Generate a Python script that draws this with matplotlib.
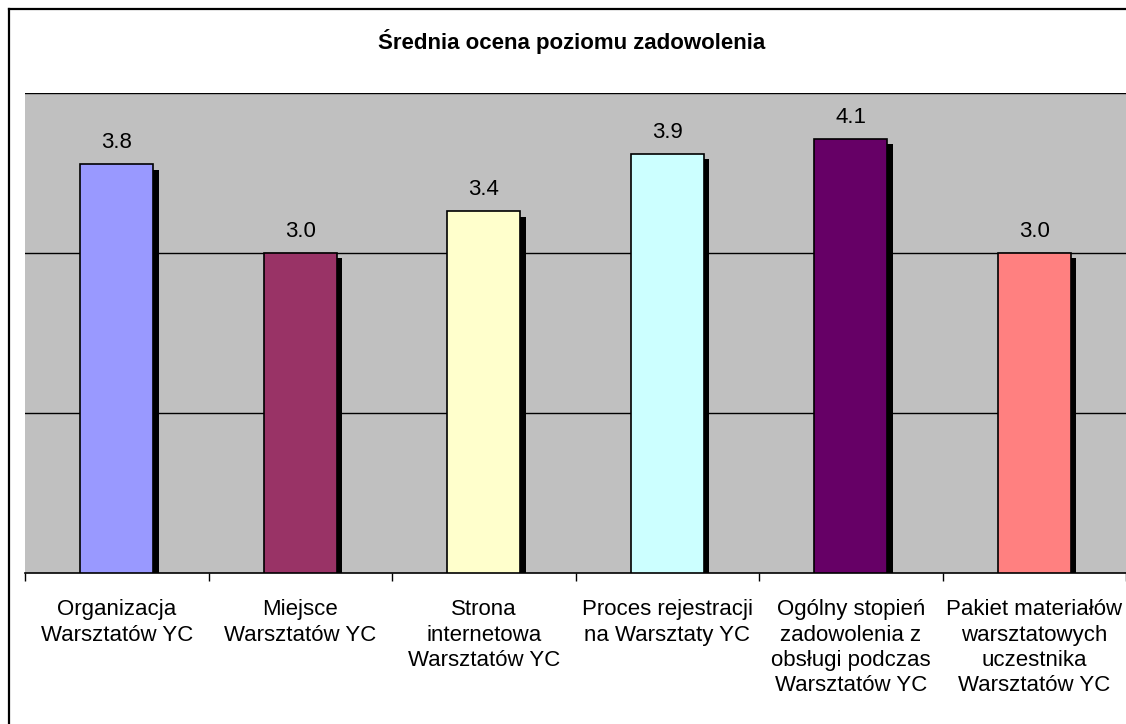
import matplotlib
matplotlib.use("Agg")
import matplotlib.pyplot as plt
import matplotlib.patheffects as pe
from matplotlib.lines import Line2D
import numpy as np

plt.rcParams['font.family'] = ['Liberation Sans', 'DejaVu Sans']

# Data
categories = [
    "Organizacja\nWarsztatów YC",
    "Miejsce\nWarsztatów YC",
    "Strona\ninternetowa\nWarsztatów YC",
    "Proces rejestracji\nna Warsztaty YC",
    "Ogólny stopień\nzadowolenia z\nobsługi podczas\nWarsztatów YC",
    "Pakiet materiałów\nwarsztatowych\nuczestnika\nWarsztatów YC",
]
values = [3.83, 3.0, 3.39, 3.93, 4.07, 3.0]
colors = ["#9999FF", "#993366", "#FFFFCC", "#CCFFFF", "#660066", "#FF8080"]
title = "Średnia ocena poziomu zadowolenia"

W, H = 1126, 724
fig = plt.figure(figsize=(W / 100, H / 100), dpi=100)
fig.patch.set_facecolor("white")

# plot area in pixels: left 25, top 93, right 1126, bottom 573
ax = fig.add_axes([25 / W, (H - 573) / H, (W - 25) / W, (573 - 93) / H])
ax.set_facecolor("#C0C0C0")

x = np.arange(len(values))
bars = ax.bar(x, values, width=0.4, color=colors, edgecolor="black",
              linewidth=1.2, zorder=3)
for b in bars:
    b.set_path_effects([pe.SimplePatchShadow(offset=(3.8, -3.8),
                                             shadow_rgbFace="black", alpha=1.0),
                        pe.Normal()])

for xi, v in zip(x, values):
    ax.annotate(f"{v:.1f}", (xi, v), xytext=(0, 11.5), textcoords="offset points",
                ha="center", va="baseline", fontsize=16, color="black")

ax.set_xlim(-0.5, len(values) - 0.5)
ax.set_ylim(0, 4.5)
ax.set_yticks([1.5, 3.0, 4.5])
ax.yaxis.grid(True, color="black", linewidth=1.0, zorder=1)
ax.set_axisbelow(True)
ax.tick_params(axis="y", length=0, labelleft=False)

ax.set_xticks(x)
ax.set_xticklabels(categories, fontsize=16, linespacing=1.27)
ax.set_xticks(np.arange(-0.5, len(values), 1.0), minor=True)
ax.tick_params(axis="x", which="major", length=0, pad=19)
ax.tick_params(axis="x", which="minor", length=6, width=1, color="black", direction="out")

for s in ["left", "right", "top"]:
    ax.spines[s].set_visible(False)
ax.spines["bottom"].set_color("black")
ax.spines["bottom"].set_linewidth(1.2)

fig.text(572 / W, 1 - 42 / H, title, ha="center", va="center",
         fontsize=16, fontweight="bold")

# chart frame (left and top edges visible)
fig.add_artist(Line2D([8.5 / W, 8.5 / W], [0, 1 - 8.5 / H], color="black", linewidth=1.6,
                      transform=fig.transFigure))
fig.add_artist(Line2D([8.5 / W, 1], [1 - 8.5 / H, 1 - 8.5 / H], color="black", linewidth=1.6,
                      transform=fig.transFigure))

fig.savefig("out.png", dpi=100)
